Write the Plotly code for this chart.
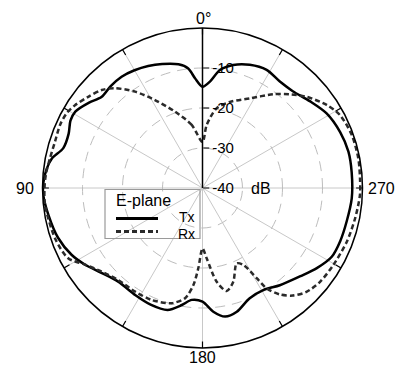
import math
import plotly.graph_objects as go

# Measured E-plane patterns (angle in degrees, level in dB)
tx_theta = [0, 3.9, 6.8, 11, 18, 24, 30, 36, 42, 48, 53, 59, 63, 68, 74, 79, 83, 88,
            92.5, 100, 109, 117, 123, 130, 138, 148, 156, 164, 170, 174.5, 180,
            185, 190, 195.5, 203, 211, 218.5, 228, 235, 242, 249, 257, 266,
            276, 284, 292, 301, 309, 317, 324, 331.5, 339, 346, 351.6, 356, 360]
tx_db = [-14.7, -12.5, -9.9, -8.5, -7.4, -6.6, -6.0, -5.6, -5.7, -6.0, -4.5, -2.9, -2.95, -3.9, -3.8, -1.6, -0.75, -0.2,
         -0.15, -0.9, -1.8, -3.25, -4.9, -7.0, -8.5, -8.4, -8.1, -8.3, -10.3, -11.9, -11.6,
         -8.95, -7.35, -7.9, -10.0, -10.3, -8.95, -7.05, -5.1, -3.4, -3.1, -3.0, -2.6,
         -2.5, -2.4, -2.85, -3.8, -5.5, -6.9, -7.1, -6.4, -7.0, -8.3, -10.2, -13.35, -14.7]

rx_theta = [0, 9.7, 19.8, 28.4, 35, 41.3, 45.8, 51.4, 57, 61, 66, 72.6, 79, 85, 90,
            96, 109, 117.6, 123, 129.7, 137.5, 147, 155.6, 165, 171, 174.6, 177, 180,
            183.4, 188.6, 193.2, 198.2, 204.4, 208, 211, 212.6, 216, 220, 225, 231.4,
            239.5, 249.6, 258.8, 267.5, 273.5, 280.8, 289.6, 298, 303.8, 311.2, 317,
            323, 332, 342.3, 350, 356.2, 360]
rx_db = [-28.5, -24.0, -19.7, -15.0, -10.6, -6.8, -4.85, -3.45, -2.0, -1.25, -1.05, -1.35, -1.15, -0.7, -0.5,
         -0.4, -1.05, -2.1, -4.9, -7.25, -8.8, -9.1, -9.25, -10.2, -12.1, -15.6, -19.9, -24.9,
         -22.4, -16.3, -13.55, -15.35, -19.3, -18.2, -13.7, -10.2, -7.1, -4.9, -3.25, -2.4,
         -2.05, -1.5, -1.1, -0.6, -0.55, -0.35, -0.4, -1.1, -2.65, -5.4, -7.95,
         -10.65, -14.6, -17.4, -19.8, -24.2, -28.5]

radial_ticks = [-40, -30, -20, -10]
radial_labels = ["-40", "-30", "-20", "-10"]
angle_ticks = list(range(0, 360, 30))
# compass labels around the outer ring: (angle, text)
angle_names = [(0, "0°"), (90, "90"), (180, "180"), (270, "270")]
legend_title = "E-plane"
series_names = ["Tx", "Rx"]

R_MIN, R_MAX = -40, 0
TICK_DB = 1.6  # inward tick length on the outer ring, in dB

FONT = "Liberation Sans, Arial, sans-serif"
TX_LINE = dict(color="black", width=2.5)
RX_LINE = dict(color="#2a2a2a", width=2.5, dash="5px,3px")

# plot geometry in pixels
W, H = 401, 365
CX, CY, RAD = 202.5, 188.0, 160.0
LABEL_GAP = {0: 169.5, 90: 177.0, 180: 169.5, 270: 179.0}  # centre distance of compass labels


def px(x):
    return x / W


def py(y):
    return 1 - y / H


# short inward tick marks on the outer ring, one per angular grid line
tick_r, tick_t = [], []
for a in angle_ticks:
    tick_r += [R_MAX - TICK_DB, R_MAX, None]
    tick_t += [a, a, None]

fig = go.Figure()
fig.add_trace(go.Scatterpolar(
    r=tick_r, theta=tick_t, mode="lines", showlegend=False, hoverinfo="skip",
    line=dict(color="black", width=1.2), connectgaps=False,
))
fig.add_trace(go.Scatterpolar(
    r=tx_db, theta=tx_theta, mode="lines", name=series_names[0], showlegend=False,
    line=dict(**TX_LINE, shape="spline", smoothing=0.8),
))
fig.add_trace(go.Scatterpolar(
    r=rx_db, theta=rx_theta, mode="lines", name=series_names[1], showlegend=False,
    line=dict(**RX_LINE, shape="spline", smoothing=0.8),
))

annotations = []
for ang, txt in angle_names:
    d = LABEL_GAP[ang]
    x = CX - d * math.sin(math.radians(ang))
    y = CY - d * math.cos(math.radians(ang))
    if ang == 0:
        x += 1.5
    annotations.append(dict(
        text=txt, x=px(x), y=py(y), xref="paper", yref="paper",
        xanchor="center", yanchor="middle", showarrow=False,
        font=dict(size=16, family=FONT, color="black"),
    ))
annotations.append(dict(
    text="dB", x=px(261), y=py(188), xref="paper", yref="paper",
    showarrow=False, font=dict(size=16, family=FONT, color="black"),
))

# legend box in the lower-left quadrant
LEG_L, LEG_R, LEG_T, LEG_B = 105, 200, 189.5, 238.5
KEY_X0, KEY_X1, TEXT_R = 116, 158, 196
KEY_Y = [218.5, 231.5]
TEXT_Y = [217.0, 233.5]
annotations.append(dict(
    text=legend_title, x=px(115), y=py(201), xref="paper", yref="paper",
    xanchor="left", yanchor="middle", showarrow=False, borderpad=0,
    font=dict(size=16, family=FONT, color="black"),
))
shapes = [dict(type="rect", xref="paper", yref="paper",
               x0=px(LEG_L), x1=px(LEG_R), y0=py(LEG_B), y1=py(LEG_T),
               line=dict(color="#9a9a9a", width=1.2), fillcolor="rgba(0,0,0,0)")]
for name, style, ky, ty in zip(series_names, [TX_LINE, RX_LINE], KEY_Y, TEXT_Y):
    shapes.append(dict(type="line", xref="paper", yref="paper",
                       x0=px(KEY_X0), x1=px(KEY_X1), y0=py(ky), y1=py(ky),
                       line=dict(style, width=3)))
    annotations.append(dict(
        text=name, x=px(TEXT_R), y=py(ty), xref="paper", yref="paper",
        xanchor="right", yanchor="middle", showarrow=False, borderpad=0,
        font=dict(size=14, family=FONT, color="black"),
    ))

fig.update_layout(
    width=W, height=H,
    margin=dict(l=0, r=0, t=0, b=0),
    paper_bgcolor="white",
    font=dict(family=FONT, size=15, color="black"),
    showlegend=False,
    polar=dict(
        domain=dict(x=[px(CX - RAD), px(CX + RAD)],
                    y=[py(CY + RAD), py(CY - RAD)]),
        bgcolor="white",
        angularaxis=dict(
            rotation=90, direction="counterclockwise",
            tickmode="array", tickvals=angle_ticks,
            ticks="", showticklabels=False,
            showline=True, linecolor="black", linewidth=1.5,
            gridcolor="#c8c8c8", gridwidth=1,
        ),
        radialaxis=dict(
            range=[R_MIN, R_MAX], angle=90, side="clockwise",
            tickmode="array", tickvals=radial_ticks, ticktext=radial_labels,
            ticks="outside", ticklen=6, tickcolor="black", tickwidth=1.2,
            tickangle=90,
            showline=True, linecolor="black", linewidth=1.5,
            gridcolor="#bdbdbd", gridwidth=1, griddash="10px,7px",
            tickfont=dict(size=15, family=FONT, color="black"),
        ),
    ),
    shapes=shapes,
    annotations=annotations,
)

fig.write_html("out.html")
